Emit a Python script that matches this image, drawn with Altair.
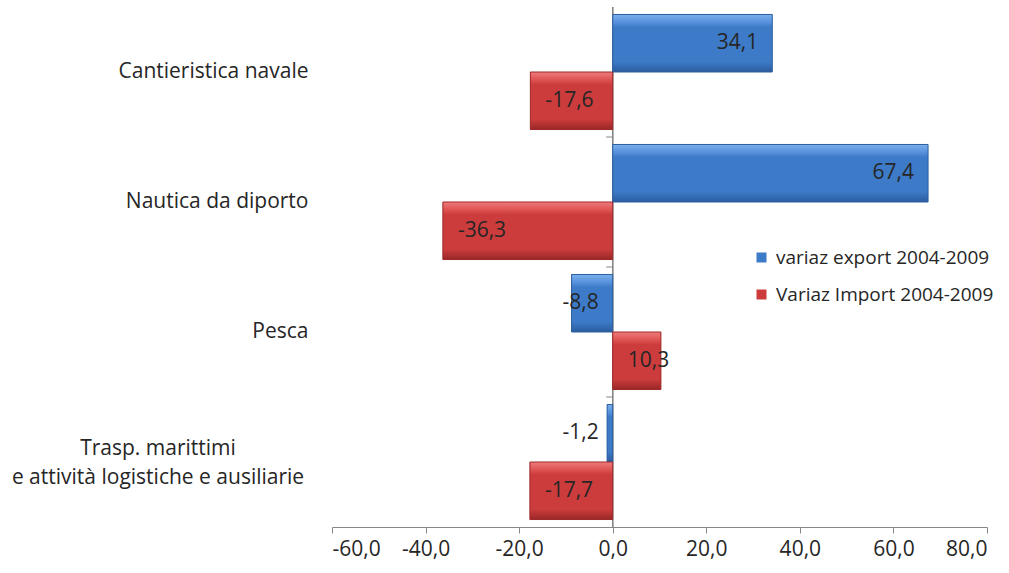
import altair as alt
import pandas as pd

categories = [
    "Cantieristica navale",
    "Nautica da diporto",
    "Pesca",
    "Trasp. marittimi\ne attività logistiche e ausiliarie",
]
series_names = ["variaz export 2004-2009", "Variaz Import 2004-2009"]
export_vals = [34.1, 67.4, -8.8, -1.2]
import_vals = [-17.6, -36.3, 10.3, -17.7]
x_ticks = [-60, -40, -20, 0, 20, 40, 60, 80]

rows = []
for c, e, i in zip(categories, export_vals, import_vals):
    rows.append({"cat": c, "series": series_names[0], "v": e})
    rows.append({"cat": c, "series": series_names[1], "v": i})
df = pd.DataFrame(rows)
cat_df = pd.DataFrame({"cat": categories})

FONT = "Open Sans"
FS = 21
TXT = "#262626"
AX = "#868686"
BLUE = "#3d7bc8"
RED = "#cc3c3c"

xs = alt.Scale(domain=[-60, 80], nice=False, zero=False)
ys = alt.Scale(paddingInner=0, paddingOuter=0)
Y = alt.Y("cat:N", sort=categories, scale=ys, title=None,
          axis=alt.Axis(domain=False, ticks=False, labelPadding=24,
                        labelFontSize=FS, labelFont=FONT, labelColor=TXT,
                        labelLimit=0, labelAlign="right",
                        labelExpr="indexof(datum.label, '\\n') >= 0 ? '' : datum.label"))
YO = alt.YOffset("series:N", sort=series_names,
                 scale=alt.Scale(paddingInner=0, paddingOuter=0.13))
X = alt.X("v:Q", scale=xs, title=None,
          axis=alt.Axis(values=x_ticks, labelExpr="toString(datum.value) + ',0'",
                        grid=False, domainColor=AX, tickColor=AX, tickSize=6,
                        labelFontSize=FS, labelFont=FONT, labelColor=TXT,
                        labelPadding=5))

base = alt.Chart(df)

zero_rule = alt.Chart(cat_df).mark_rule(color=AX, strokeWidth=1).encode(
    x=alt.X(datum=0, scale=xs)
)
cat_ticks = alt.Chart(cat_df).transform_filter(
    alt.datum.cat != categories[0]
).mark_rule(color=AX, strokeWidth=1).encode(
    y=alt.Y("cat:N", sort=categories, scale=ys, bandPosition=0),
    x=alt.X(datum=-1.4, scale=xs),
    x2=alt.X2(datum=0),
)

legend_bars = base.mark_bar().encode(
    x=X, x2=alt.X2(datum=0), y=Y, yOffset=YO,
    color=alt.Color("series:N", sort=series_names,
                    scale=alt.Scale(domain=series_names, range=[BLUE, RED]),
                    legend=alt.Legend(orient="none", legendX=420, legendY=241,
                                      title=None, symbolType="square",
                                      symbolSize=100, symbolStrokeWidth=0,
                                      labelFontSize=19, labelFont=FONT,
                                      labelColor=TXT, rowPadding=17,
                                      labelOffset=5, padding=0, labelLimit=0)),
)


def grad(c_light, c_mid, c_main, c_dark):
    return alt.Gradient(
        gradient="linear", x1=0, x2=0, y1=0, y2=1,
        stops=[
            alt.GradientStop(color=c_light, offset=0),
            alt.GradientStop(color=c_mid, offset=0.14),
            alt.GradientStop(color=c_main, offset=0.22),
            alt.GradientStop(color=c_main, offset=0.82),
            alt.GradientStop(color=c_dark, offset=1),
        ],
    )


blue_bars = base.transform_filter(alt.datum.series == series_names[0]).mark_bar(
    fill=grad("#79afec", "#5791dc", "#3d7bc8", "#2b5c9e"),
    stroke="#2e5f9f", strokeWidth=1,
).encode(x=X, x2=alt.X2(datum=0), y=Y, yOffset=YO)

red_bars = base.transform_filter(alt.datum.series == series_names[1]).mark_bar(
    fill=grad("#ee7b7b", "#de5252", "#cc3c3c", "#9a2727"),
    stroke="#9e2b2b", strokeWidth=1,
).encode(x=X, x2=alt.X2(datum=0), y=Y, yOffset=YO)

lab = base.transform_calculate(
    anchor="abs(datum.v) < 12 ? 0 : datum.v",
    right="(datum.v > 0) == (abs(datum.v) >= 12)",
    txt="(datum.v < 0 ? '-' : '') + replace(format(abs(datum.v), '.1f'), '.', ',')",
)
lab_r = lab.transform_filter("datum.right").mark_text(
    align="right", baseline="middle", dx=-14, fontSize=FS, font=FONT, color=TXT
).encode(x=alt.X("anchor:Q", scale=xs), y=Y, yOffset=YO, text="txt:N")
lab_l = lab.transform_filter("!datum.right").mark_text(
    align="left", baseline="middle", dx=15, fontSize=FS, font=FONT, color=TXT
).encode(x=alt.X("anchor:Q", scale=xs), y=Y, yOffset=YO, text="txt:N")

multi_label = alt.Chart(cat_df).transform_filter(
    "indexof(datum.cat, '\\n') >= 0"
).mark_text(
    align="center", baseline="middle", lineBreak="\n", lineHeight=29, dy=-13,
    fontSize=FS, font=FONT, color=TXT,
).encode(x=alt.value(-174), y=alt.Y("cat:N", sort=categories, scale=ys), text="cat:N")

chart = alt.layer(
    zero_rule, cat_ticks, legend_bars, blue_bars, red_bars, lab_r, lab_l, multi_label
).properties(
    width=655, height=520,
    autosize=alt.AutoSizeParams(type="none"),
    padding={"left": 332, "top": 7, "right": 22, "bottom": 46},
    background="white",
).configure_view(stroke=None)

chart.save("out.html", embed_options={"renderer": "svg", "actions": False})
